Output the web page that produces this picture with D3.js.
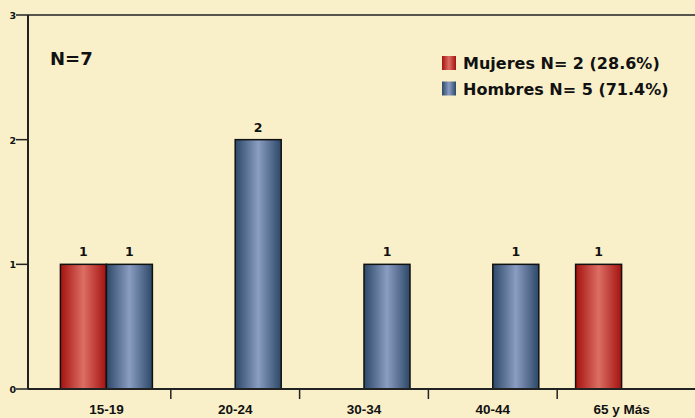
<!DOCTYPE html>
<html><head><meta charset="utf-8">
<script src="https://cdn.jsdelivr.net/npm/d3@7"></script>
<style>body{margin:0;background:#F9F0C9}svg{display:block}text{font-family:"DejaVu Sans",Verdana,sans-serif;font-weight:bold;fill:#111}</style>
</head><body>
<script>
const categories = ["15-19","20-24","30-34","40-44","65 y Más"];
const mujeres = [1,0,0,0,1];
const hombres = [1,2,1,1,0];
const seriesNames = ["Mujeres","Hombres"];
const legendLabels = ["Mujeres N= 2 (28.6%)","Hombres N= 5 (71.4%)"];
const yTicks = [0,1,2,3];
const totalLabel = "N=7";

(function(){
const W=695,H=418;
const svg=d3.select("body").append("svg").attr("width",W).attr("height",H);
svg.append("rect").attr("width",W).attr("height",H).attr("fill","#F9F0C9");
const defs=svg.append("defs");
function grad(id,dark,light){
  const g=defs.append("linearGradient").attr("id",id).attr("x1","0").attr("x2","1").attr("y1","0").attr("y2","0");
  g.append("stop").attr("offset","0%").attr("stop-color",dark);
  g.append("stop").attr("offset","50%").attr("stop-color",light);
  g.append("stop").attr("offset","100%").attr("stop-color",dark);
}
grad("gRed","#A4120F","#DC6E64");
grad("gBlue","#2D4868","#8A9DC2");
const fills={Mujeres:"url(#gRed)",Hombres:"url(#gBlue)"};

const axisX=28, plotTop=15, plotBottom=389;
const x=d3.scaleBand().domain(categories).range([42,686]);
const y=d3.scaleLinear().domain([0,3]).range([plotBottom,plotTop]);
const bw=x.bandwidth();
const x1=d3.scaleBand().domain(seriesNames).range([bw/2-46,bw/2+46]);

const data=[];
categories.forEach((c,i)=>{
  data.push({c,s:"Mujeres",v:mujeres[i]});
  data.push({c,s:"Hombres",v:hombres[i]});
});
const nz=data.filter(d=>d.v>0);

svg.selectAll("rect.bar").data(nz).enter().append("rect").attr("class","bar")
  .attr("x",d=>x(d.c)+x1(d.s)).attr("width",x1.bandwidth())
  .attr("y",d=>y(d.v)).attr("height",d=>y(0)-y(d.v))
  .attr("fill",d=>fills[d.s]).attr("stroke","#111").attr("stroke-width",1.5);

svg.selectAll("text.val").data(nz).enter().append("text")
  .attr("x",d=>x(d.c)+x1(d.s)+x1.bandwidth()/2).attr("y",d=>y(d.v)-8)
  .attr("text-anchor","middle").attr("font-size",12.5).text(d=>d.v);

svg.append("line").attr("x1",axisX).attr("x2",W).attr("y1",plotTop).attr("y2",plotTop).attr("stroke","#222").attr("stroke-width",1.5);
svg.append("line").attr("x1",axisX).attr("x2",axisX).attr("y1",plotTop).attr("y2",plotBottom).attr("stroke","#222").attr("stroke-width",2);
svg.append("line").attr("x1",axisX).attr("x2",W).attr("y1",plotBottom).attr("y2",plotBottom).attr("stroke","#222").attr("stroke-width",2);

const yg=svg.append("g");
yTicks.forEach(t=>{
  yg.append("line").attr("x1",16).attr("x2",axisX).attr("y1",y(t)).attr("y2",y(t)).attr("stroke","#222").attr("stroke-width",1.5);
  yg.append("text").attr("x",16).attr("y",y(t)+4).attr("text-anchor","end").attr("font-size",9.5).text(t);
});

categories.slice(1).forEach(c=>{
  svg.append("line").attr("x1",x(c)).attr("x2",x(c)).attr("y1",plotBottom).attr("y2",plotBottom+10).attr("stroke","#222").attr("stroke-width",1.5);
});
svg.selectAll("text.xl").data(categories).enter().append("text")
  .attr("x",d=>x(d)+bw/2).attr("y",414).attr("text-anchor","middle")
  .style("font-family","'Liberation Sans',Arial,sans-serif").attr("font-size",13.5).text(d=>d);

svg.append("text").attr("x",50).attr("y",65).attr("font-size",18).text(totalLabel);

const lg=svg.append("g");
seriesNames.forEach((s,i)=>{
  lg.append("rect").attr("x",442).attr("y",56+i*25.5).attr("width",14).attr("height",14).attr("fill",fills[s]);
  lg.append("text").attr("x",463).attr("y",69+i*26).attr("font-size",16).text(legendLabels[i]);
});
})();
</script>
</body></html>
